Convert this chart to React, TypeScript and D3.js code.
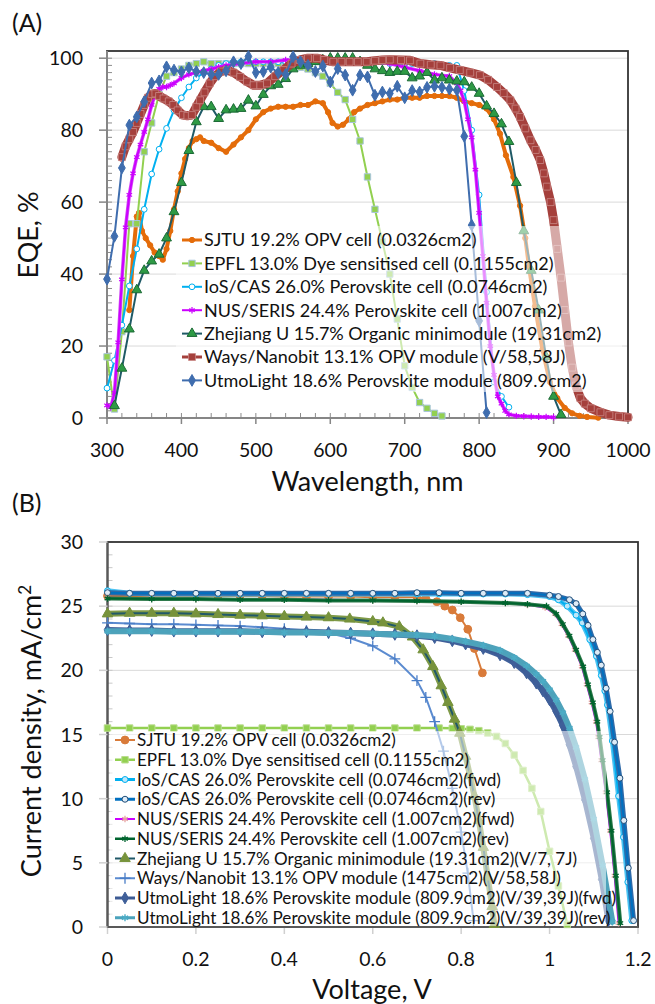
import React from "react";
import * as d3 from "d3";

type Pt = [number, number];

// ---------- (A) EQE vs wavelength ----------
const eqeSjtu: Pt[] = [[330,30],[335,45],[340,56],[343,57],[347,52],[352,50],[358,48],[364,46],[370,45],[375,44],[380,47],[385,52],[390,58],[395,63],[400,68],[405,72],[410,75],[415,77],[420,77.5],[425,78],[430,77],[440,76.5],[450,75],[460,74],[470,76],[480,78],[490,80],[500,83],[510,85],[520,86],[530,86.5],[540,86.5],[550,86.5],[560,87],[570,87],[580,88],[590,87.5],[597,85],[603,82],[610,81],[617,81.5],[625,83],[632,85],[640,86],[650,87],[660,87.5],[670,88],[680,88.5],[690,88.5],[700,89],[710,89],[720,89],[730,89.5],[740,89.5],[750,89.5],[760,89.5],[770,89],[780,88],[790,87.5],[800,87],[810,86],[820,83],[828,79],[836,73],[846,67],[855,59],[862,50],[867,42],[875,31],[885,19],[895,10],[905,5.5],[915,2.8],[925,1.3],[935,0.6],[945,0.3],[960,0.1]];
const eqeEpfl: Pt[] = [[300,17],[310,2.5],[320,24],[330,54],[340,54],[350,74],[360,82],[370,90],[380,95],[390,96],[400,97],[410,98],[420,98.5],[430,99],[440,98.5],[450,98.5],[460,98.5],[470,98.5],[480,98.5],[490,98.5],[500,98.5],[510,98.5],[520,98.5],[530,98.5],[540,98.5],[550,98],[560,97.5],[570,97],[580,96],[590,95],[600,93],[610,90.5],[620,88.5],[630,83],[640,77],[650,67],[660,58],[670,49],[680,40],[690,27.5],[700,14.5],[710,8.5],[720,4.3],[730,2.7],[740,1.3],[750,0.55]];
const eqeIos: Pt[] = [[300,8.3],[310,16],[320,25.8],[330,36.7],[340,47],[350,58],[360,67.8],[370,74.7],[380,80.5],[390,85.5],[400,89],[410,92],[420,94.5],[430,96],[440,97],[450,98],[460,98.5],[470,99],[480,99],[490,99],[500,99],[510,99],[520,99],[530,99],[540,99],[550,99],[560,99],[570,99],[580,99],[590,99],[600,99],[610,99],[620,99],[630,99],[640,99],[650,99],[660,99],[670,99],[680,98.5],[690,98.5],[700,98.5],[710,98.5],[720,98.5],[730,98.5],[740,98.5],[750,98],[760,98],[770,98],[780,91],[790,80],[800,62],[810,35],[820,10],[830,6],[840,3]];
const eqeNus: Pt[] = [[300,3.5],[305,3],[310,7],[315,21],[320,38.5],[325,53],[330,62],[335,68],[340,72.5],[345,76],[350,79.5],[355,83],[360,87],[365,90],[370,91.5],[375,92],[380,92],[385,92.5],[390,93],[400,94.5],[410,95.5],[420,96],[430,96.5],[440,97],[450,97.5],[460,98],[480,98.5],[500,99],[520,99],[540,99.5],[560,99.5],[580,99.5],[600,99.5],[620,99.5],[640,99],[660,99],[680,98.5],[700,97.5],[720,96.5],[740,95.5],[760,95],[770,93],[775,91],[780,88],[785,83],[790,78],[795,69],[800,57],[805,45],[810,32],[815,20],[820,12],[825,6],[830,4],[835,2],[840,1],[850,0.6],[860,0.5],[870,0.4],[880,0.3],[890,0.3],[900,0.2]];
const eqeZhejiang: Pt[] = [[310,3.4],[320,13.8],[330,24.7],[340,35.6],[350,41],[360,43.6],[370,45.5],[380,50],[390,57.3],[400,65.4],[410,74.3],[420,82.3],[430,86.5],[440,86.5],[450,83.2],[460,85.6],[470,85.8],[480,86],[490,88.3],[500,86.7],[510,89.9],[520,92.3],[530,92.7],[540,94.3],[550,97],[560,98],[570,98.5],[580,99],[590,99.5],[600,100],[610,100],[620,100],[630,100],[640,99],[650,98],[660,97],[670,96.5],[680,96],[690,96.3],[700,96.3],[710,94.5],[720,95],[730,96],[740,93.9],[750,94.5],[760,93.9],[770,93.6],[780,93.4],[790,91.9],[800,90.2],[810,86.7],[820,84.6],[830,81.7],[840,76.8],[850,65.4],[860,52],[870,41],[880,30],[890,17],[900,6],[910,0.9]];
const eqeWays: Pt[] = [[320,72.5],[325,75.5],[330,77.5],[335,79.5],[340,82],[345,84.5],[350,87],[355,89],[360,90],[365,90.2],[370,89.5],[376,88.8],[383,88],[389,87],[395,85.5],[402,84.2],[408,84],[414,84.2],[420,86.5],[425,88.3],[431,90.5],[438,93],[445,95],[453,96.3],[461,96.7],[470,96],[479,94.8],[488,93.5],[497,92.5],[506,92.5],[515,93],[526,95],[537,96.7],[548,98.5],[559,99.5],[570,100],[582,100],[592,99.5],[604,99],[615,99],[626,99],[637,99],[649,99],[660,99.3],[670,99.5],[680,99.6],[695,99.5],[707,99.4],[721,98.5],[735,98.2],[748,98],[761,97.3],[774,96.7],[788,96],[801,95.3],[812,94],[824,92],[833,90.3],[842,88.3],[849,86],[855,83.7],[862,80.5],[869,77.2],[876,74.5],[882,71.7],[887,68],[891,64.3],[896,60],[900,55],[905,47],[910,39],[915,30],[920,21],[925,14],[930,9],[936,5.5],[942,4],[950,2.7],[963,1.6],[975,0.8],[988,0.4],[1000,0.2]];
const eqeUtmo: Pt[] = [[300,38.6],[310,50.5],[320,69.5],[330,81.4],[340,83.7],[350,87.9],[360,93.1],[370,93.7],[380,97.6],[390,96.7],[400,96.2],[410,97.3],[420,96.3],[430,96],[440,95.5],[450,95.5],[460,96.5],[470,99],[480,98.5],[490,100.5],[500,96],[510,96.3],[520,97.5],[530,96],[540,95.5],[550,100.4],[560,99],[570,98],[580,96.3],[590,97.8],[600,93.4],[610,97.1],[620,95.3],[630,91.1],[640,95.3],[650,94.8],[660,89.7],[670,90.6],[680,90.2],[690,92.2],[700,89],[710,91],[720,90.6],[730,91.9],[740,92.2],[750,91.9],[760,91.4],[770,91.1],[780,78.3],[790,53.6],[800,27],[810,1.5]];

const eqeXTicks = [300, 400, 500, 600, 700, 800, 900, 1000];
const eqeYTicks = [0, 20, 40, 60, 80, 100];

// ---------- (B) J-V curves ----------
const jvSjtu: Pt[] = [[0,25.8],[0.05,25.8],[0.1,25.8],[0.15,25.8],[0.2,25.8],[0.25,25.8],[0.3,25.8],[0.35,25.8],[0.4,25.75],[0.45,25.75],[0.5,25.75],[0.55,25.75],[0.6,25.7],[0.65,25.7],[0.7,25.7],[0.72,25.6],[0.745,25.35],[0.763,25.0],[0.78,24.7],[0.798,24.1],[0.815,23.2],[0.83,21.7],[0.848,19.8]];
const jvEpfl: Pt[] = [[0,15.5],[0.05,15.5],[0.1,15.5],[0.15,15.5],[0.2,15.5],[0.25,15.5],[0.3,15.5],[0.35,15.5],[0.4,15.5],[0.45,15.5],[0.5,15.5],[0.55,15.5],[0.6,15.5],[0.65,15.5],[0.7,15.5],[0.75,15.5],[0.78,15.48],[0.8,15.45],[0.82,15.4],[0.84,15.3],[0.86,15.12],[0.88,14.85],[0.9,14.3],[0.92,13.4],[0.94,12.2],[0.96,10.8],[0.98,9.0],[1.0,5.9],[1.02,3.2],[1.04,0.2]];
const jvIosFwd: Pt[] = [[0,26.2],[0.05,26.0],[0.1,25.95],[0.15,25.95],[0.2,25.95],[0.25,25.95],[0.3,25.95],[0.35,25.95],[0.4,25.95],[0.45,25.95],[0.5,25.95],[0.55,25.95],[0.6,25.95],[0.65,25.95],[0.7,25.95],[0.75,25.95],[0.8,25.95],[0.85,25.95],[0.9,25.95],[0.95,25.9],[1.0,25.75],[1.02,25.5],[1.04,25.0],[1.06,24.3],[1.074,23.7],[1.091,22.4],[1.106,21.1],[1.117,19.6],[1.125,18.4],[1.131,17.3],[1.142,14.5],[1.156,10.2],[1.167,7.0],[1.177,3.5],[1.186,0.5]];
const jvIosRev: Pt[] = [[0,26.05],[0.05,26.0],[0.1,26.0],[0.15,26.0],[0.2,26.0],[0.25,26.0],[0.3,26.0],[0.35,26.0],[0.4,26.0],[0.45,26.0],[0.5,26.0],[0.55,26.0],[0.6,26.0],[0.65,26.0],[0.7,26.05],[0.75,26.05],[0.8,26.0],[0.85,26.0],[0.9,26.0],[0.95,26.0],[1.0,25.85],[1.02,25.75],[1.045,25.5],[1.06,25.2],[1.075,24.4],[1.087,23.5],[1.098,22.4],[1.108,21.4],[1.117,20.4],[1.128,18.6],[1.137,16.8],[1.147,14.4],[1.159,11.6],[1.168,8.3],[1.178,4.6],[1.19,0.5]];
const jvNusFwd: Pt[] = [[0,25.65],[0.1,25.6],[0.2,25.55],[0.3,25.55],[0.4,25.5],[0.5,25.5],[0.6,25.45],[0.7,25.4],[0.8,25.35],[0.9,25.25],[0.95,25.1],[0.99,24.9],[1.012,24.4],[1.027,23.6],[1.042,22.7],[1.057,21.6],[1.073,20.3],[1.084,18.9],[1.095,17.5],[1.105,16.0],[1.11,14.8],[1.117,13],[1.127,10.5],[1.137,7.5],[1.147,4],[1.156,0.3]];
const jvNusRev: Pt[] = [[0,25.6],[0.1,25.55],[0.2,25.55],[0.3,25.5],[0.4,25.5],[0.5,25.45],[0.6,25.45],[0.7,25.4],[0.8,25.35],[0.9,25.25],[0.95,25.15],[0.993,25.0],[1.015,24.4],[1.03,23.6],[1.045,22.7],[1.06,21.6],[1.076,20.3],[1.087,18.9],[1.098,17.5],[1.108,16.0],[1.113,14.8],[1.12,13],[1.13,10.5],[1.14,7.5],[1.15,4],[1.16,0.3]];
const jvZhejiang: Pt[] = [[0,24.4],[0.05,24.45],[0.1,24.45],[0.15,24.45],[0.2,24.4],[0.25,24.35],[0.3,24.3],[0.35,24.25],[0.4,24.2],[0.45,24.15],[0.5,24.1],[0.548,24.0],[0.6,23.8],[0.623,23.7],[0.66,23.4],[0.69,22.6],[0.714,21.6],[0.736,20.3],[0.755,18.8],[0.77,17.5],[0.785,16.2],[0.797,15.1],[0.81,13.3],[0.82,11.8],[0.83,10.2],[0.84,8.3],[0.85,6.2],[0.86,3.9],[0.87,1.6],[0.875,0.2]];
const jvWays: Pt[] = [[0,23.7],[0.05,23.65],[0.1,23.6],[0.15,23.6],[0.2,23.55],[0.25,23.5],[0.3,23.45],[0.35,23.35],[0.4,23.25],[0.45,23.1],[0.5,22.9],[0.55,22.5],[0.6,21.9],[0.65,20.9],[0.7,19.2],[0.72,17.9],[0.74,16.0],[0.76,13.7],[0.78,10.8],[0.8,7.4],[0.815,4.2],[0.828,0.5]];
const jvUtmoFwd: Pt[] = [[0,23.15],[0.05,23.1],[0.1,23.1],[0.15,23.05],[0.2,23.05],[0.25,23.05],[0.3,23.05],[0.35,23.0],[0.4,23.0],[0.45,23.0],[0.5,22.95],[0.55,22.9],[0.6,22.85],[0.65,22.8],[0.7,22.7],[0.74,22.55],[0.78,22.3],[0.81,22.05],[0.85,21.7],[0.888,21.2],[0.92,20.6],[0.948,19.8],[0.97,19.0],[0.985,18.4],[1.0,17.7],[1.015,16.8],[1.03,15.7],[1.045,14.2],[1.06,12.5],[1.08,9.9],[1.1,6.9],[1.118,3.7],[1.133,0.5]];
const jvUtmoRev: Pt[] = [[0,23.05],[0.05,23.05],[0.1,23.05],[0.15,23.0],[0.2,23.0],[0.25,23.0],[0.3,23.0],[0.35,23.0],[0.4,22.95],[0.45,22.95],[0.5,22.9],[0.55,22.9],[0.6,22.85],[0.65,22.8],[0.7,22.75],[0.74,22.65],[0.78,22.45],[0.81,22.25],[0.85,21.95],[0.888,21.55],[0.92,21.0],[0.948,20.35],[0.97,19.7],[0.985,19.15],[1.0,18.5],[1.015,17.7],[1.03,16.7],[1.045,15.5],[1.06,14.0],[1.08,11.5],[1.1,8.4],[1.12,4.8],[1.142,0.4]];

const jvXTicks = [0, 0.2, 0.4, 0.6, 0.8, 1, 1.2];
const jvYTicks = [0, 5, 10, 15, 20, 25, 30];

const FONT = "Lato, 'Open Sans', sans-serif";

interface Series {
  label: string;
  data: Pt[];
  color: string;
  lw: number;
  shape: string;
  ms: number;
  fill: string;
  stroke: string;
  sw?: number;
  band?: [string, number]; // dense markers in the original read as a band
}

const eqeSeries: Series[] = [
  { label: "SJTU 19.2% OPV cell (0.0326cm2)", data: eqeSjtu, color: "#E46C0A", lw: 4, shape: "circle", ms: 22, fill: "#E46C0A", stroke: "#E46C0A" },
  { label: "EPFL 13.0% Dye sensitised cell (0.1155cm2)", data: eqeEpfl, color: "#92D050", lw: 2, shape: "square", ms: 40, fill: "#92D050", stroke: "#A8C4DC" },
  { label: "IoS/CAS 26.0% Perovskite cell (0.0746cm2)", data: eqeIos, color: "#00B0F0", lw: 2, shape: "circle", ms: 26, fill: "#ffffff", stroke: "#00B0F0" },
  { label: "NUS/SERIS 24.4% Perovskite cell (1.007cm2)", data: eqeNus, color: "#CC00FF", lw: 2, shape: "asterisk", ms: 28, fill: "none", stroke: "#CC00FF", sw: 1.2, band: ["#D24DF5", 3.5] },
  { label: "Zhejiang U 15.7% Organic minimodule (19.31cm2)", data: eqeZhejiang, color: "#1F5A66", lw: 2, shape: "triangle", ms: 42, fill: "#2E9A45", stroke: "#1B6A35" },
  { label: "Ways/Nanobit 13.1% OPV module (V/58,58J)", data: eqeWays, color: "#A5403C", lw: 9, shape: "square", ms: 48, fill: "#A5403C", stroke: "#C98885", sw: 0.8 },
  { label: "UtmoLight 18.6% Perovskite module (809.9cm2)", data: eqeUtmo, color: "#3F6DAE", lw: 2, shape: "diamond", ms: 40, fill: "#3F6DAE", stroke: "#3F6DAE" },
];

const jvSeries: Series[] = [
  { label: "SJTU 19.2% OPV cell (0.0326cm2)", data: jvSjtu, color: "#D97B3A", lw: 2, shape: "circle", ms: 48, fill: "#D97B3A", stroke: "#D97B3A" },
  { label: "EPFL 13.0% Dye sensitised cell (0.1155cm2)", data: jvEpfl, color: "#92D050", lw: 2.5, shape: "square", ms: 42, fill: "#92D050", stroke: "#B9DC8E" },
  { label: "IoS/CAS 26.0% Perovskite cell (0.0746cm2)(fwd)", data: jvIosFwd, color: "#00B0F0", lw: 3, shape: "circle", ms: 28, fill: "#BDE7FA", stroke: "#00B0F0", band: ["#4FC3F2", 5] },
  { label: "IoS/CAS 26.0% Perovskite cell (0.0746cm2)(rev)", data: jvIosRev, color: "#0070C0", lw: 3, shape: "circle", ms: 28, fill: "#DDEBF7", stroke: "#1F4E79", band: ["#2F6AA8", 5] },
  { label: "NUS/SERIS 24.4% Perovskite cell (1.007cm2)(fwd)", data: jvNusFwd, color: "#CC00FF", lw: 2, shape: "asterisk", ms: 30, fill: "none", stroke: "#E6A3A3", sw: 1.3 },
  { label: "NUS/SERIS 24.4% Perovskite cell (1.007cm2)(rev)", data: jvNusRev, color: "#00642E", lw: 2.5, shape: "asterisk", ms: 30, fill: "none", stroke: "#00642E", sw: 1.3, band: ["#2F7A4C", 4] },
  { label: "Zhejiang U 15.7% Organic minimodule (19.31cm2)(V/7, 7J)", data: jvZhejiang, color: "#215968", lw: 2, shape: "triangle", ms: 48, fill: "#77933C", stroke: "#77933C", band: ["#7F9A48", 6] },
  { label: "Ways/Nanobit 13.1% OPV module (1475cm2)(V/58,58J)", data: jvWays, color: "#5B8BD0", lw: 2, shape: "plus", ms: 40, fill: "none", stroke: "#4A7EC7", sw: 1.3 },
  { label: "UtmoLight 18.6% Perovskite module (809.9cm2)(V/39,39J)(fwd)", data: jvUtmoFwd, color: "#3C5B94", lw: 4, shape: "diamond", ms: 40, fill: "#3F5F99", stroke: "#3F5F99", band: ["#40609A", 6] },
  { label: "UtmoLight 18.6% Perovskite module (809.9cm2)(V/39,39J)(rev)", data: jvUtmoRev, color: "#4BA3BC", lw: 4, shape: "asterisk", ms: 36, fill: "none", stroke: "#4BACC6", sw: 1.4, band: ["#4FA2BA", 6] },
];

const symbolTypes: Record<string, d3.SymbolType> = {
  circle: d3.symbolCircle,
  square: d3.symbolSquare,
  triangle: d3.symbolTriangle,
  diamond: d3.symbolDiamond,
  asterisk: d3.symbolAsterisk,
  plus: d3.symbolPlus,
};

function symbolPath(shape: string, size: number) {
  return d3.symbol().type(symbolTypes[shape]).size(size)() || "";
}

function Marker({ s, x, y }: { s: Series; x: number; y: number }) {
  return (
    <path
      d={symbolPath(s.shape, s.ms)}
      transform={`translate(${x},${y})`}
      fill={s.fill}
      stroke={s.stroke}
      strokeWidth={s.sw || 1}
    />
  );
}

function Curve({ s, x, y }: { s: Series; x: d3.ScaleLinear<number, number>; y: d3.ScaleLinear<number, number> }) {
  const line = d3.line<Pt>().x(d => x(d[0])).y(d => y(d[1]));
  const d = line(s.data) || "";
  return (
    <g>
      {s.band && <path d={d} fill="none" stroke={s.band[0]} strokeWidth={s.band[1]} strokeLinejoin="round" strokeLinecap="round" />}
      <path d={d} fill="none" stroke={s.color} strokeWidth={s.band ? Math.min(s.lw, 2) : s.lw} strokeLinejoin="round" strokeLinecap="round" />
      {s.data.map((p, i) => <Marker key={i} s={s} x={x(p[0])} y={y(p[1])} />)}
    </g>
  );
}

function Legend({ series, x0, y0, dy, fontSize, box }: { series: Series[]; x0: number; y0: number; dy: number; fontSize: number; box: number[] }) {
  return (
    <g>
      <rect x={box[0]} y={box[1]} width={box[2] - box[0]} height={box[3] - box[1]} fill="#ffffff" fillOpacity={0.55} />
      {series.map((s, i) => {
        const y = y0 + i * dy;
        return (
          <g key={s.label}>
            <line x1={x0} x2={x0 + 20} y1={y} y2={y} stroke={s.color} strokeWidth={Math.min(s.lw, 3)} />
            <Marker s={s} x={x0 + 10} y={y} />
            <text x={x0 + 22} y={y} dy="0.36em" fontSize={fontSize} fill="#111">{s.label}</text>
          </g>
        );
      })}
    </g>
  );
}

export default function App() {
  // panel A
  const xA = d3.scaleLinear().domain([300, 1000]).range([107, 628]);
  const yA = d3.scaleLinear().domain([0, 102]).range([418, 51]);
  // panel B
  const xB = d3.scaleLinear().domain([0, 1.2]).range([107.5, 638]);
  const yB = d3.scaleLinear().domain([0, 30]).range([927, 542]);

  const minorA = d3.range(0, 101, 2);
  const minorAx = d3.range(300, 1001, 20);
  const minorB = d3.range(0, 31, 1);

  return (
    <svg width={655} height={1004} style={{ position: "absolute", left: 0, top: 0, background: "#fff" }} fontFamily={FONT}>
      <rect width={655} height={1004} fill="#fff" />

      {/* ---------- A ---------- */}
      <text x={12} y={32} fontSize={25} fill="#111">(A)</text>
      {eqeYTicks.filter(t => t > 0).map(t => (
        <line key={t} x1={107} x2={628} y1={yA(t)} y2={yA(t)} stroke="#D9D9D9" strokeWidth={1} />
      ))}
      {minorA.map(t => <line key={"m" + t} x1={107} x2={112} y1={yA(t)} y2={yA(t)} stroke="#8C8C8C" strokeWidth={1} />)}
      {minorAx.map(t => <line key={"mx" + t} x1={xA(t)} x2={xA(t)} y1={418} y2={413} stroke="#8C8C8C" strokeWidth={1} />)}
      <rect x={107} y={51} width={628 - 107} height={418 - 51} fill="none" stroke="#333" strokeWidth={1.8} />
      <line x1={107} x2={107} y1={51} y2={418} stroke="#868686" strokeWidth={2} />
      <line x1={107} x2={628} y1={418} y2={418} stroke="#868686" strokeWidth={2} />
      {eqeYTicks.map(t => (
        <g key={t}>
          <line x1={99} x2={107} y1={yA(t)} y2={yA(t)} stroke="#868686" strokeWidth={1.5} />
          <text x={83} y={yA(t)} dy="0.36em" textAnchor="end" fontSize={19.5} fill="#111">{t}</text>
        </g>
      ))}
      {eqeXTicks.map(t => (
        <g key={t}>
          <line x1={xA(t)} x2={xA(t)} y1={418} y2={424} stroke="#868686" strokeWidth={1.5} />
          <text x={xA(t)} y={457} textAnchor="middle" fontSize={19.5} fill="#111">{t}</text>
        </g>
      ))}
      {eqeSeries.map(s => <Curve key={s.label} s={s} x={xA} y={yA} />)}
      <Legend series={eqeSeries} x0={182} y0={240} dy={23.4} fontSize={18} box={[176, 226, 622, 392]} />
      <text x={367.5} y={491} textAnchor="middle" fontSize={27} fill="#111">Wavelength, nm</text>
      <text transform="translate(38,235) rotate(-90)" textAnchor="middle" fontSize={27} fill="#111">EQE, %</text>

      {/* ---------- B ---------- */}
      <text x={12} y={512} fontSize={25} fill="#111">(B)</text>
      {jvYTicks.filter(t => t > 0 && t < 30).map(t => (
        <line key={t} x1={107.5} x2={638} y1={yB(t)} y2={yB(t)} stroke="#D9D9D9" strokeWidth={1} />
      ))}
      {minorB.map(t => <line key={"m" + t} x1={107.5} x2={112.5} y1={yB(t)} y2={yB(t)} stroke="#C8C8C8" strokeWidth={1} />)}
      <rect x={107.5} y={542} width={638 - 107.5} height={927 - 542} fill="none" stroke="#333" strokeWidth={1.8} />
      <line x1={107.5} x2={107.5} y1={542} y2={927} stroke="#595959" strokeWidth={2} />
      <line x1={107.5} x2={638} y1={927} y2={927} stroke="#595959" strokeWidth={2} />
      {jvYTicks.map(t => (
        <g key={t}>
          <line x1={99} x2={107.5} y1={yB(t)} y2={yB(t)} stroke="#D0D0D0" strokeWidth={1.5} />
          <text x={83} y={yB(t)} dy="0.36em" textAnchor="end" fontSize={19.5} fill="#111">{t}</text>
        </g>
      ))}
      {jvXTicks.map(t => (
        <g key={t}>
          <line x1={xB(t)} x2={xB(t)} y1={928} y2={934} stroke="#D0D0D0" strokeWidth={1.5} />
          <text x={xB(t)} y={966} textAnchor="middle" fontSize={19.5} fill="#111">{t}</text>
        </g>
      ))}
      {jvSeries.map(s => <Curve key={s.label} s={s} x={xB} y={yB} />)}
      <Legend series={jvSeries} x0={115} y0={740} dy={19.75} fontSize={17.1} box={[110, 731, 606, 926]} />
      <text x={372} y={999} textAnchor="middle" fontSize={27} fill="#111">Voltage, V</text>
      <text transform="translate(41,731) rotate(-90)" textAnchor="middle" fontSize={27} fill="#111">
        Current density, mA/cm<tspan dy="-10" fontSize={17}>2</tspan>
      </text>
    </svg>
  );
}
